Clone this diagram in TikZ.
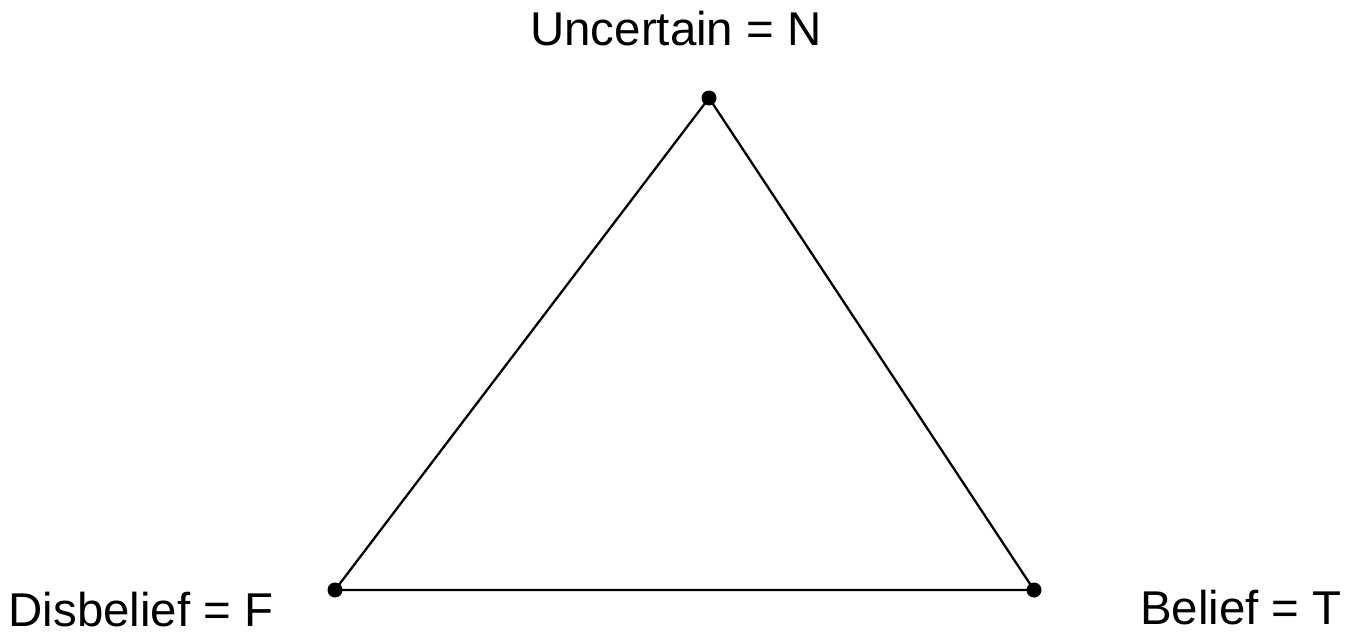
\documentclass[tikz,border=0pt]{standalone}
\usepackage{fontspec}
\setmainfont{Liberation Sans}
\begin{document}
\begin{tikzpicture}[
    x=0.02cm,
    y=-0.02cm,
    corner/.style={circle, fill=black, inner sep=0pt, minimum size=0.3cm},
    label/.style={anchor=base, inner sep=0pt, font=\fontsize{27pt}{30pt}\selectfont}
]

\useasboundingbox (0,0) rectangle (1349,635);

% Corners
\node[corner] (n) at (709,98) {};
\node[corner] (f) at (335,590) {};
\node[corner] (t) at (1034,590) {};

% Sides
\draw[line width=1.3pt] (n.center) -- (f.center) -- (t.center) -- cycle;

% Labels
\node[label] (ln) at (676,46) {Uncertain = N};
\node[label] (lf) at (141,626) {Disbelief = F};
\node[label] (lt) at (1241,624) {Belief = T};

\end{tikzpicture}
\end{document}
